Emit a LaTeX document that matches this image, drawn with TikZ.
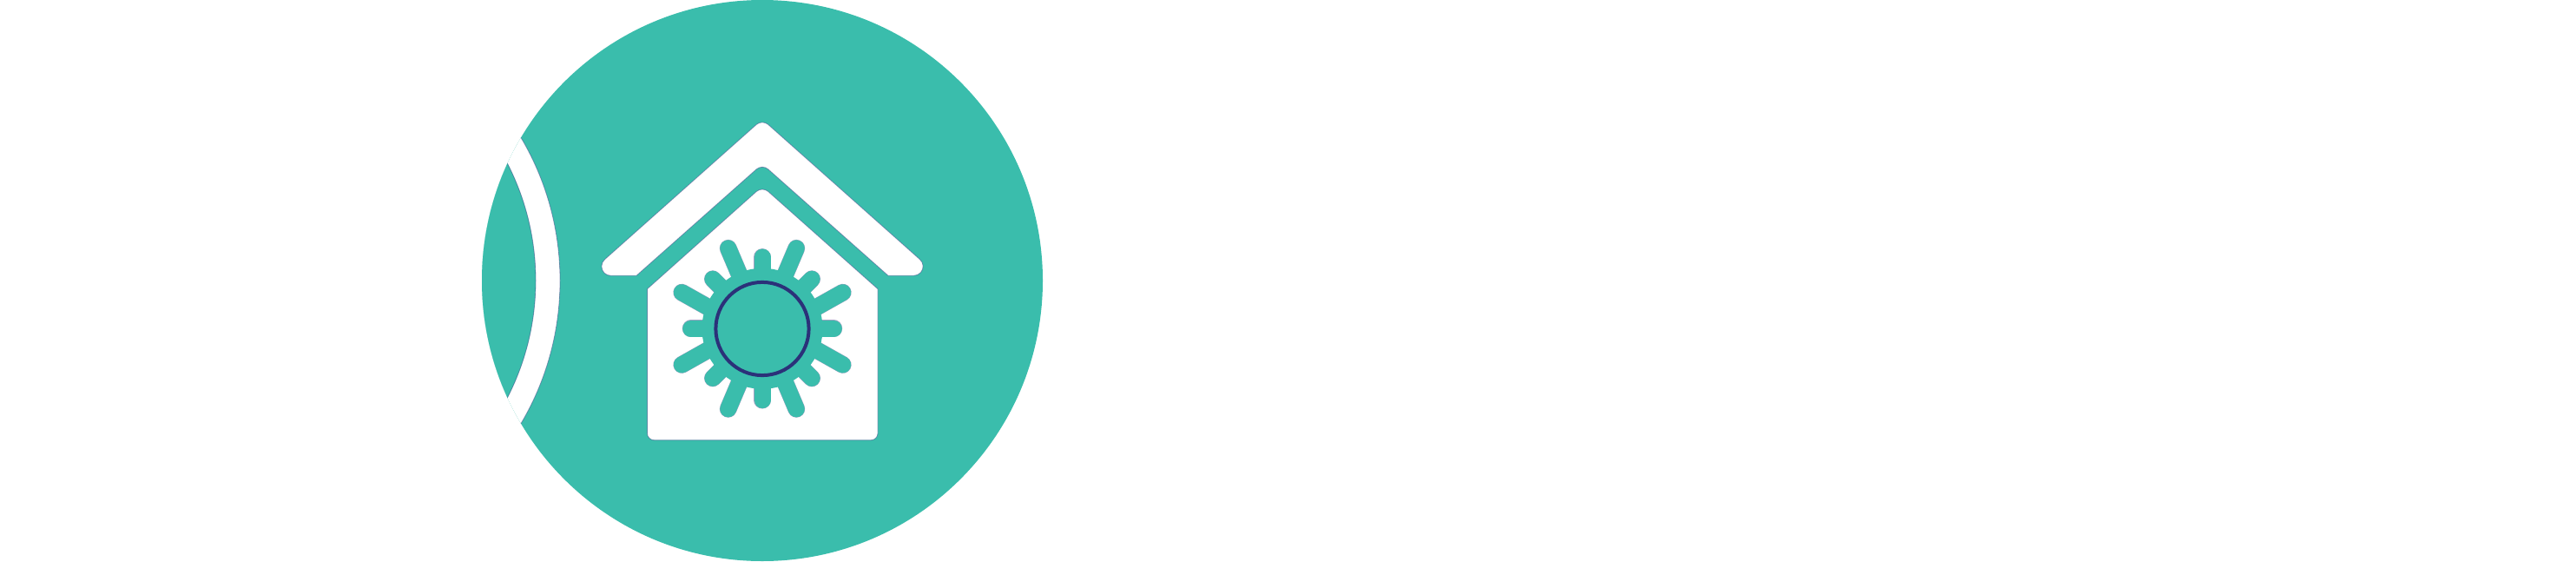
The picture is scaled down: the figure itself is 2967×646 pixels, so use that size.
\documentclass[tikz,border=0pt]{standalone}
\definecolor{tealmain}{HTML}{3ABDAC}
\definecolor{navysun}{HTML}{2B3179}
\tikzset{
  cutout/.style={fill=white,draw=navysun,draw opacity=0.45,line width=0.8pt,line join=round},
  edgearc/.style={draw=navysun,draw opacity=0.45,line width=0.8pt},
  rayedge/.style={draw=navysun,draw opacity=0.45,line width=19.8pt,line cap=round},
  rayfill/.style={draw=tealmain,line width=19pt,line cap=round}
}
\newcommand{\sunray}[3]{\draw[#3] (878,378.3) ++(#1:60) -- ++(#1:#2-60);}
\newcommand{\siderays}[1]{%
  \draw[#1] (785.3,336.7) -- (825,359);
  \draw[#1] (970.7,336.7) -- (931,359);
  \draw[#1] (785.3,419.9) -- (825,397.6);
  \draw[#1] (970.7,419.9) -- (931,397.6);}
\begin{document}
\begin{tikzpicture}[x=1pt,y=-1pt]
\useasboundingbox (0,0) rectangle (2967,646);
\fill[white] (0,0) rectangle (2967,646);
% main disc and the white crescent band that cuts it
\fill[tealmain] (878,323) circle[radius=323];
\begin{scope}
  \clip (878,323) circle[radius=323];
  \fill[white] (322,323) circle[radius=323];
  \fill[tealmain] (322,323) circle[radius=295];
  \draw[edgearc] (322,323) circle[radius=323];
  \draw[edgearc] (322,323) circle[radius=295];
\end{scope}
% roof
\draw[cutout] (733,317.3) -- (703.5,317.3)
  arc[start angle=90,end angle=228.6,radius=10.6]
  [rounded corners=9pt] -- (878,137.4) [sharp corners] -- (1059.5,298.7)
  arc[start angle=-48.6,end angle=90,radius=10.6]
  -- (1023,317.3) [rounded corners=9pt] -- (878,188.8) [sharp corners] -- cycle;
% house body
\draw[cutout] (745.5,332.7) [rounded corners=9pt] -- (878,214.5) [sharp corners]
  -- (1011,332.7) [rounded corners=8pt] -- (1011,506.7) -- (745.5,506.7) [sharp corners] -- cycle;
% sun
\foreach \a in {0,90,180,270} {\sunray{\a}{82.3}{rayedge}}
\foreach \a in {45,135,225,315} {\sunray{\a}{80.7}{rayedge}}
\foreach \a in {67,113,247,293} {\sunray{\a}{100.5}{rayedge}}
\siderays{rayedge}
\foreach \a in {0,90,180,270} {\sunray{\a}{82.3}{rayfill}}
\foreach \a in {45,135,225,315} {\sunray{\a}{80.7}{rayfill}}
\foreach \a in {67,113,247,293} {\sunray{\a}{100.5}{rayfill}}
\siderays{rayfill}
\fill[tealmain] (878,378.3) circle[radius=69.5];
\draw[navysun,line width=4pt] (878,378.5) circle[radius=53.6];
\end{tikzpicture}
\end{document}
